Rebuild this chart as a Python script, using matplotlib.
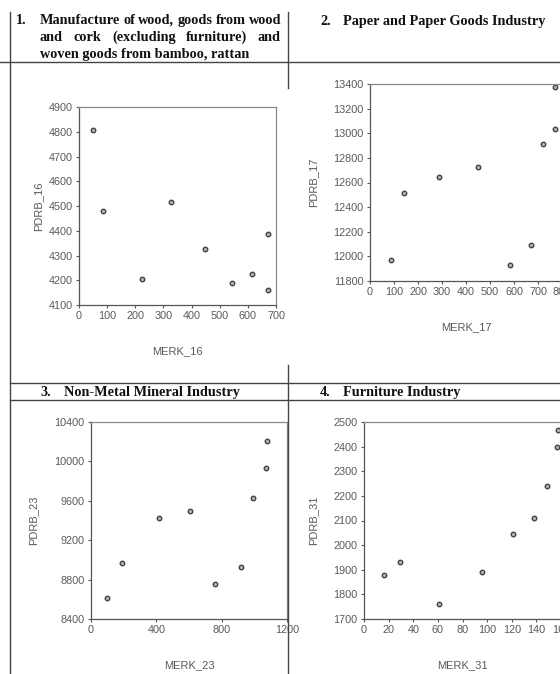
import matplotlib
matplotlib.use("Agg")
import matplotlib.pyplot as plt
from matplotlib.lines import Line2D

# datos
merk_16 = [51, 84, 224, 327, 447, 542, 616, 672, 672]
pdrb_16 = [4806, 4480, 4204, 4515, 4325, 4190, 4224, 4387, 4159]

merk_17 = [86, 142, 287, 449, 582, 669, 722, 772, 772]
pdrb_17 = [11968, 12516, 12641, 12722, 11927, 12096, 12912, 13037, 13373]

merk_23 = [98, 189, 419, 607, 761, 916, 993, 1073, 1075]
pdrb_23 = [8617, 8972, 9422, 9496, 8755, 8925, 9625, 9936, 10204]

merk_31 = [16, 29.6, 61, 95.5, 121, 138, 148.4, 156.6, 157.7]
pdrb_31 = [1877, 1931, 1762, 1892, 2045, 2109, 2240, 2397, 2467]

W, H = 560, 674
fig = plt.figure(figsize=(W / 100, H / 100), dpi=100)
fig.patch.set_facecolor("white")

def fx(px):
    return px / W

def fy(py):
    return 1 - py / H

gris = "#5a5a5a"
serif = "Liberation Serif"
sans = "Liberation Sans"

# lineas de la tabla
def linea(x0, y0, x1, y1):
    fig.add_artist(Line2D([fx(x0), fx(x1)], [fy(y0), fy(y1)], color="#444444",
                          lw=1.0, transform=fig.transFigure, zorder=10))

linea(10, 12, 10, 674)
linea(288, 12, 288, 88)
linea(288, 365, 288, 674)
linea(0, 62, 560, 62)
linea(10, 383, 560, 383)
linea(10, 400, 560, 400)

# titulos
tam = 10.3
def texto(x, y, s, ha="left"):
    return fig.text(fx(x), fy(y), s, ha=ha, va="center", family=serif,
                    weight="bold", fontsize=tam, color="#111111")

def justificar(palabras, x0, x1, y):
    objs = [texto(x0, y, p) for p in palabras]
    fig.canvas.draw()
    r = fig.canvas.get_renderer()
    anchos = [o.get_window_extent(r).width for o in objs]
    hueco = (x1 - x0 - sum(anchos)) / (len(palabras) - 1)
    x = x0
    for o, a in zip(objs, anchos):
        o.set_x(fx(x))
        x += a + hueco

texto(16, 20.5, "1.")
justificar("Manufacture of wood, goods from wood".split(), 40, 281, 20.5)
justificar("and cork (excluding furniture) and".split(), 40, 281, 37.5)
texto(40, 54.5, "woven goods from bamboo, rattan")

texto(320, 21.5, "2.")
texto(343, 21.5, "Paper and Paper Goods Industry")
texto(40, 392.5, "3.")
texto(64, 392.5, "Non-Metal Mineral Industry")
texto(320, 392.5, "4.")
texto(343, 392.5, "Furniture Industry")

# graficos de dispersion
def grafico(izq, arriba, ancho, alto, x, y, xlim, ylim, xticks, yticks,
            xlab, ylab, ylab_x):
    ax = fig.add_axes([fx(izq), fy(arriba + alto), ancho / W, alto / H])
    ax.plot(x, y, "o", ms=3.3, mfc="#b0b0b0", mec="#3a3a3a", mew=0.9)
    ax.set_xlim(xlim)
    ax.set_ylim(ylim)
    ax.set_xticks(xticks)
    ax.set_yticks(yticks)
    ax.tick_params(direction="out", length=2.5, width=0.8, colors=gris,
                   labelsize=7.8, pad=2)
    for lab in ax.get_xticklabels() + ax.get_yticklabels():
        lab.set_family(sans)
    for lado in ["left", "bottom"]:
        ax.spines[lado].set_color("#555555")
        ax.spines[lado].set_linewidth(0.9)
    for lado in ["top", "right"]:
        ax.spines[lado].set_color("#8a8a8a")
        ax.spines[lado].set_linewidth(0.9)
    ax.set_xlabel(xlab, family=sans, fontsize=8, color=gris)
    ax.set_ylabel(ylab, family=sans, fontsize=8, color=gris)
    ax.xaxis.set_label_coords(0.5, -41 / alto)
    ax.yaxis.set_label_coords((ylab_x - izq) / ancho, 0.5)
    return ax

grafico(79, 107, 197, 198, merk_16, pdrb_16, (0, 700), (4100, 4900),
        range(0, 701, 100), range(4100, 4901, 100), "MERK_16", "PDRB_16", 43)
grafico(370, 84, 192, 197, merk_17, pdrb_17, (0, 800), (11800, 13400),
        range(0, 801, 100), range(11800, 13401, 200), "MERK_17", "PDRB_17", 318)
grafico(91, 422, 196, 197, merk_23, pdrb_23, (0, 1200), (8400, 10400),
        range(0, 1201, 400), range(8400, 10401, 400), "MERK_23", "PDRB_23", 38)
grafico(364, 422, 197, 197, merk_31, pdrb_31, (0, 160), (1700, 2500),
        range(0, 161, 20), range(1700, 2501, 100), "MERK_31", "PDRB_31", 318)

fig.savefig("out.png", dpi=100)
